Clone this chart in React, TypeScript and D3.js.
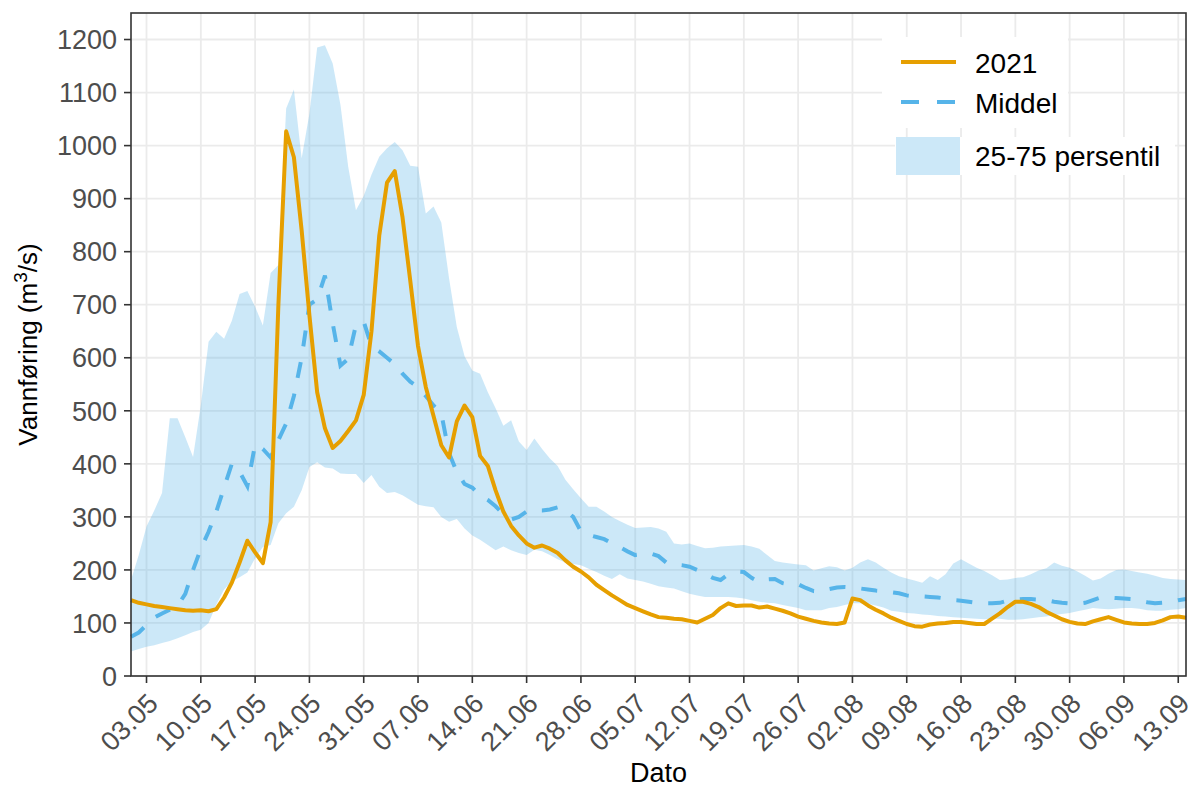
import { useEffect, useRef } from 'react'
import * as d3 from 'd3'

// daily values from 01.05.2021 to 14.09.2021
const startDate = '2021-05-01'

const flow2021 = [
  143, 138, 135, 132, 130, 128, 126, 124, 123, 124,
  122, 126, 148, 176, 214, 255, 233, 213, 290, 700,
  1027, 978, 840, 680, 535, 467, 430, 443, 462, 482,
  530, 650, 830, 930, 952, 865, 745, 622, 545, 490,
  435, 412, 480, 510, 488, 415, 396, 350, 310, 283,
  265, 250, 242, 246, 240, 232, 218, 206, 197, 186,
  172, 162, 152, 143, 134, 128, 122, 116, 111, 110,
  108, 107, 104, 101, 108, 115, 128, 137, 132, 133,
  133, 129, 131, 127, 123, 118, 112, 108, 104, 101,
  99, 98, 101, 146, 143, 133, 125, 118, 110, 104,
  98, 94, 93, 97, 99, 100, 102, 102, 100, 98,
  98, 108, 118, 130, 140, 140, 136, 130, 121, 114,
  107, 102, 99, 98, 103, 107, 111, 106, 101, 99,
  98, 98, 100, 105, 111, 112, 110,
]

const middel = [
  74, 82, 96, 110, 118, 125, 132, 155, 200, 240,
  272, 310, 355, 400, 385, 358, 437, 428, 412, 445,
  476, 528, 600, 700, 710, 755, 665, 585, 598, 662,
  668, 622, 612, 600, 588, 570, 555, 545, 528, 510,
  495, 420, 385, 362, 355, 340, 332, 320, 305, 295,
  300, 310, 312, 312, 314, 318, 312, 300, 273, 266,
  262, 258, 250, 243, 235, 228, 230, 231, 226, 214,
  210, 209, 206, 200, 193, 185, 181, 192, 197, 196,
  185, 177, 182, 183, 175, 172, 173, 166, 160, 159,
  164, 167, 168, 167, 165, 163, 161, 160, 158, 156,
  152, 150, 150, 149, 148, 146, 143, 142, 140, 138,
  137, 137, 138, 142, 144, 145, 145, 144, 143, 140,
  138, 137, 136, 138, 143, 148, 148, 147, 146, 145,
  142, 139, 137, 138, 140, 143, 145,
]

const p75 = [
  181, 228, 282, 312, 345, 486, 486, 450, 413, 510,
  630, 649, 636, 670, 720, 726, 696, 661, 760, 775,
  1070, 1106, 976, 1060, 1185, 1189, 1155, 1077, 960, 878,
  905, 945, 979, 995, 1007, 991, 962, 960, 872, 885,
  855, 750, 658, 603, 576, 570, 535, 505, 472, 482,
  442, 426, 448, 428, 410, 396, 370, 352, 335, 319,
  319, 310, 300, 292, 285, 279, 280, 281, 278, 272,
  250, 248, 250, 245, 241, 242, 244, 245, 246, 247,
  244, 240, 228, 217, 214, 212, 210, 209, 199, 203,
  207, 205, 199, 204, 214, 220, 214, 204, 195, 188,
  184, 180, 176, 188, 181, 192, 212, 220, 212, 204,
  198, 190, 181, 182, 185, 186, 192, 199, 203, 214,
  208, 204, 197, 189, 180, 184, 193, 200, 201, 198,
  195, 193, 189, 185, 183, 182, 181,
]

const p25 = [
  46, 51, 55, 58, 62, 66, 71, 77, 83, 87,
  100, 135, 163, 178, 186, 195, 222, 243, 247, 288,
  307, 319, 350, 394, 403, 393, 391, 382, 381, 381,
  364, 379, 357, 345, 347, 341, 332, 323, 320, 318,
  300, 291, 296, 278, 265, 257, 247, 237, 244, 237,
  232, 228, 238, 235, 228, 220, 214, 211, 209, 202,
  196, 189, 183, 192, 184, 181, 178, 174, 169, 167,
  165, 160, 155, 152, 149, 149, 149, 149, 148, 146,
  143, 140, 138, 137, 134, 131, 128, 124, 124, 124,
  128, 130, 134, 137, 137, 136, 133, 129, 123, 121,
  119, 118, 116, 115, 113, 112, 111, 110, 109, 108,
  107, 108, 108, 106, 106, 107, 109, 111, 112, 115,
  117, 119, 122, 125, 128, 127, 126, 127, 128, 128,
  127, 124, 123, 123, 125, 126, 128,
]

const xTickLabels = [
  '03.05', '10.05', '17.05', '24.05', '31.05', '07.06', '14.06', '21.06', '28.06', '05.07',
  '12.07', '19.07', '26.07', '02.08', '09.08', '16.08', '23.08', '30.08', '06.09', '13.09',
]
const yTicks = [0, 100, 200, 300, 400, 500, 600, 700, 800, 900, 1000, 1100, 1200]

const orange = '#E69F00'
const blue = '#56B4E9'
const font = '"Liberation Sans", Arial, sans-serif'

export default function App() {
  const ref = useRef<SVGSVGElement>(null)

  useEffect(() => {
    const svg = d3.select(ref.current)
    svg.selectAll('*').remove()
    const width = 1192
    const height = 787
    const margin = { top: 13, right: 6, bottom: 111, left: 131 }

    const start = d3.timeParse('%Y-%m-%d')(startDate) as Date
    const dates = flow2021.map((_, i) => d3.timeDay.offset(start, i))
    const tickDates = xTickLabels.map(l => d3.timeParse('%d.%m.%Y')(l + '.2021') as Date)

    const x = d3.scaleTime().domain([dates[0], dates[dates.length - 1]]).range([margin.left, width - margin.right])
    const y = d3.scaleLinear().domain([0, 1250]).range([height - margin.bottom, margin.top])

    svg.append('rect').attr('width', width).attr('height', height).attr('fill', '#fff')

    // grid
    const grid = svg.append('g')
    grid.selectAll('line.gy').data(yTicks).enter().append('line')
      .attr('x1', margin.left).attr('x2', width - margin.right)
      .attr('y1', d => y(d)).attr('y2', d => y(d))
      .attr('stroke', '#EBEBEB').attr('stroke-width', 1.8)
    grid.selectAll('line.gx').data(tickDates).enter().append('line')
      .attr('x1', d => x(d)).attr('x2', d => x(d))
      .attr('y1', margin.top).attr('y2', height - margin.bottom)
      .attr('stroke', '#EBEBEB').attr('stroke-width', 1.8)

    // ribbon
    const area = d3.area<number>()
      .x((_, i) => x(dates[i]))
      .y0((_, i) => y(p25[i]))
      .y1((_, i) => y(p75[i]))
    svg.append('path').datum(p75).attr('d', area).attr('fill', blue).attr('fill-opacity', 0.3)

    const line = d3.line<number>().x((_, i) => x(dates[i])).y(d => y(d))

    svg.append('path').datum(middel).attr('d', line)
      .attr('fill', 'none').attr('stroke', blue).attr('stroke-width', 4)
      .attr('stroke-dasharray', '16 16')

    svg.append('path').datum(flow2021).attr('d', line)
      .attr('fill', 'none').attr('stroke', orange).attr('stroke-width', 4)
      .attr('stroke-linejoin', 'round')

    // panel border
    svg.append('rect')
      .attr('x', margin.left).attr('y', margin.top)
      .attr('width', width - margin.left - margin.right)
      .attr('height', height - margin.top - margin.bottom)
      .attr('fill', 'none').attr('stroke', '#333333').attr('stroke-width', 1.6)

    // y axis
    const yAxis = svg.append('g')
    yAxis.selectAll('line').data(yTicks).enter().append('line')
      .attr('x1', margin.left - 7).attr('x2', margin.left)
      .attr('y1', d => y(d)).attr('y2', d => y(d))
      .attr('stroke', '#333333').attr('stroke-width', 1.6)
    yAxis.selectAll('text').data(yTicks).enter().append('text')
      .attr('x', 117).attr('y', d => y(d)).attr('dy', '0.36em')
      .attr('text-anchor', 'end').attr('font-family', font).attr('font-size', 27)
      .attr('fill', '#4D4D4D').text(d => d)

    // x axis
    const xAxis = svg.append('g')
    const axisY = height - margin.bottom
    xAxis.selectAll('line').data(tickDates).enter().append('line')
      .attr('x1', d => x(d)).attr('x2', d => x(d))
      .attr('y1', axisY).attr('y2', axisY + 7)
      .attr('stroke', '#333333').attr('stroke-width', 1.6)
    xAxis.selectAll('text').data(tickDates).enter().append('text')
      .attr('transform', d => `translate(${x(d) + 13},${axisY + 29}) rotate(-45)`)
      .attr('text-anchor', 'end').attr('font-family', font).attr('font-size', 27)
      .attr('fill', '#4D4D4D').text((_, i) => xTickLabels[i])

    // axis titles
    svg.append('text')
      .attr('x', (margin.left + width - margin.right) / 2).attr('y', 782)
      .attr('text-anchor', 'middle').attr('font-family', font).attr('font-size', 27)
      .attr('fill', '#000').text('Dato')

    const yTitle = svg.append('text')
      .attr('transform', `translate(37,${(margin.top + height - margin.bottom) / 2}) rotate(-90)`)
      .attr('text-anchor', 'middle').attr('font-family', font).attr('font-size', 26)
      .attr('fill', '#000')
    yTitle.append('tspan').text('Vannføring (m')
    yTitle.append('tspan').attr('dy', -10).attr('font-size', 19).text('3')
    yTitle.append('tspan').attr('dy', 10).text('/s)')

    // legend
    const lg = svg.append('g').attr('font-family', font).attr('font-size', 28).attr('fill', '#000')
    lg.append('rect').attr('x', 882).attr('y', 37).attr('width', 186).attr('height', 91).attr('fill', '#fff')
    lg.append('rect').attr('x', 895).attr('y', 137).attr('width', 280).attr('height', 38).attr('fill', '#fff')
    lg.append('line').attr('x1', 901).attr('x2', 956).attr('y1', 62).attr('y2', 62)
      .attr('stroke', orange).attr('stroke-width', 4)
    lg.append('line').attr('x1', 901).attr('x2', 956).attr('y1', 102).attr('y2', 102)
      .attr('stroke', blue).attr('stroke-width', 4).attr('stroke-dasharray', '18 18')
    lg.append('rect').attr('x', 896).attr('y', 137).attr('width', 64).attr('height', 38)
      .attr('fill', blue).attr('fill-opacity', 0.3)
    lg.append('text').attr('x', 975).attr('y', 73).text('2021')
    lg.append('text').attr('x', 975).attr('y', 113).text('Middel')
    lg.append('text').attr('x', 975).attr('y', 166).text('25-75 persentil')
  }, [])

  return (
    <svg
      ref={ref}
      width={1192}
      height={787}
      style={{ position: 'absolute', left: 0, top: 0, display: 'block' }}
    />
  )
}
